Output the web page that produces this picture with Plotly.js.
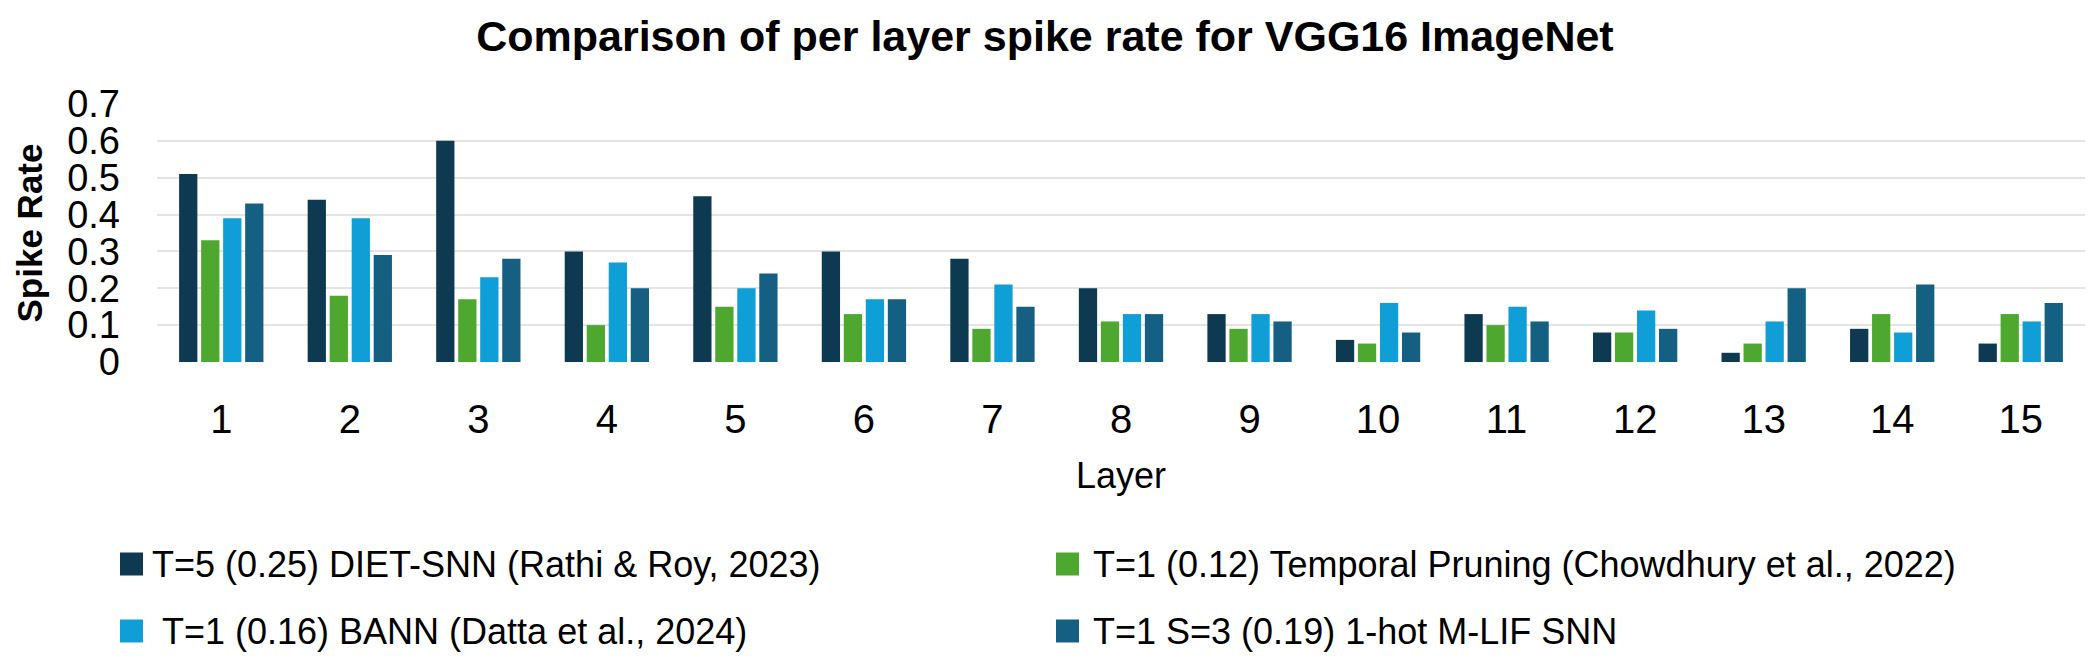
<!DOCTYPE html>
<html>
<head>
<meta charset="utf-8">
<script src="https://cdn.plot.ly/plotly-3.0.1.min.js"></script>
<style>html,body{margin:0;padding:0;background:#fff;}#chart{width:2100px;height:663px;}</style>
</head>
<body>
<div id="chart"></div>
<script>
const layers = ['1','2','3','4','5','6','7','8','9','10','11','12','13','14','15'];
const seriesNames = [
  'T=5 (0.25) DIET-SNN (Rathi & Roy, 2023)',
  'T=1 (0.12) Temporal Pruning (Chowdhury et al., 2022)',
  '\u00a0T=1 (0.16) BANN (Datta et al., 2024)',
  'T=1 S=3 (0.19) 1-hot M-LIF SNN'
];
const dietSNN     = [0.51, 0.44, 0.60, 0.30, 0.45, 0.30, 0.28, 0.20, 0.13, 0.06, 0.13, 0.08, 0.025, 0.09, 0.05];
const temporalPr  = [0.33, 0.18, 0.17, 0.10, 0.15, 0.13, 0.09, 0.11, 0.09, 0.05, 0.10, 0.08, 0.05, 0.13, 0.13];
const bann        = [0.39, 0.39, 0.23, 0.27, 0.20, 0.17, 0.21, 0.13, 0.13, 0.16, 0.15, 0.14, 0.11, 0.08, 0.11];
const mlif        = [0.43, 0.29, 0.28, 0.20, 0.24, 0.17, 0.15, 0.13, 0.11, 0.08, 0.11, 0.09, 0.20, 0.21, 0.16];
const yTicks = [0, 0.1, 0.2, 0.3, 0.4, 0.5, 0.6, 0.7];
const colors = ['#0d3a50', '#4ea72e', '#0f9ed5', '#156082'];

const W = 2100, H = 663;
const M = {l: 157, r: 15, t: 104, b: 301};
const pw = W - M.l - M.r, ph = H - M.t - M.b;
const FONT = 'Liberation Sans, Arial, sans-serif';

const seriesVals = [dietSNN, temporalPr, bann, mlif];
const traces = seriesVals.map((v, i) => ({
  type: 'bar', x: layers, y: v, name: seriesNames[i],
  marker: {color: colors[i]}, showlegend: false, hoverinfo: 'x+y'
}));

// manual legend (2 columns x 2 rows)
const legPos = [
  {sx: 120, tx: 150, cy: 564},
  {sx: 1056, tx: 1091, cy: 564},
  {sx: 120, tx: 150, cy: 631},
  {sx: 1056, tx: 1091, cy: 631}
];
const px2x = p => (p - M.l) / pw;
const py2y = p => (H - M.b - p) / ph;
const shapes = [], annotations = [];
legPos.forEach((p, i) => {
  shapes.push({type: 'rect', xref: 'paper', yref: 'paper',
    x0: px2x(p.sx), x1: px2x(p.sx + 23), y0: py2y(p.cy + 11.5), y1: py2y(p.cy - 11.5),
    fillcolor: colors[i], line: {width: 0}});
  annotations.push({xref: 'paper', yref: 'paper', x: px2x(p.tx), y: py2y(p.cy),
    xanchor: 'left', yanchor: 'middle', showarrow: false, text: seriesNames[i],
    font: {family: FONT, size: 36, color: '#000'}});
});

const layout = {
  width: W, height: H,
  margin: M,
  paper_bgcolor: '#fff', plot_bgcolor: '#fff',
  title: {text: '<b>Comparison of per layer spike rate for VGG16 ImageNet</b>',
    font: {family: FONT, size: 43, color: '#000'},
    x: 0.4976, xanchor: 'center', y: 1 - 36 / H, yanchor: 'middle', yref: 'container'},
  barmode: 'group', bargap: 0.315, bargroupgap: 0.17,
  xaxis: {type: 'category', tickvals: layers, showgrid: false, zeroline: false, showline: false,
    ticks: '', ticklabelstandoff: 30,
    tickfont: {family: FONT, size: 40, color: '#000'},
    title: {text: 'Layer', font: {family: FONT, size: 36, color: '#000'}, standoff: 22}},
  yaxis: {range: [0, 0.7], tickvals: yTicks, showgrid: true, gridcolor: '#e4e4e4', gridwidth: 2,
    zeroline: false, showline: false, ticks: '', ticklabelstandoff: 36,
    tickfont: {family: FONT, size: 38, color: '#000'},
    title: {text: '<b>Spike Rate</b>', font: {family: FONT, size: 35, color: '#000'}, standoff: 13}},
  shapes: shapes, annotations: annotations,
  font: {family: FONT}
};

Plotly.newPlot('chart', traces, layout, {displayModeBar: false, staticPlot: true});
</script>
</body>
</html>
